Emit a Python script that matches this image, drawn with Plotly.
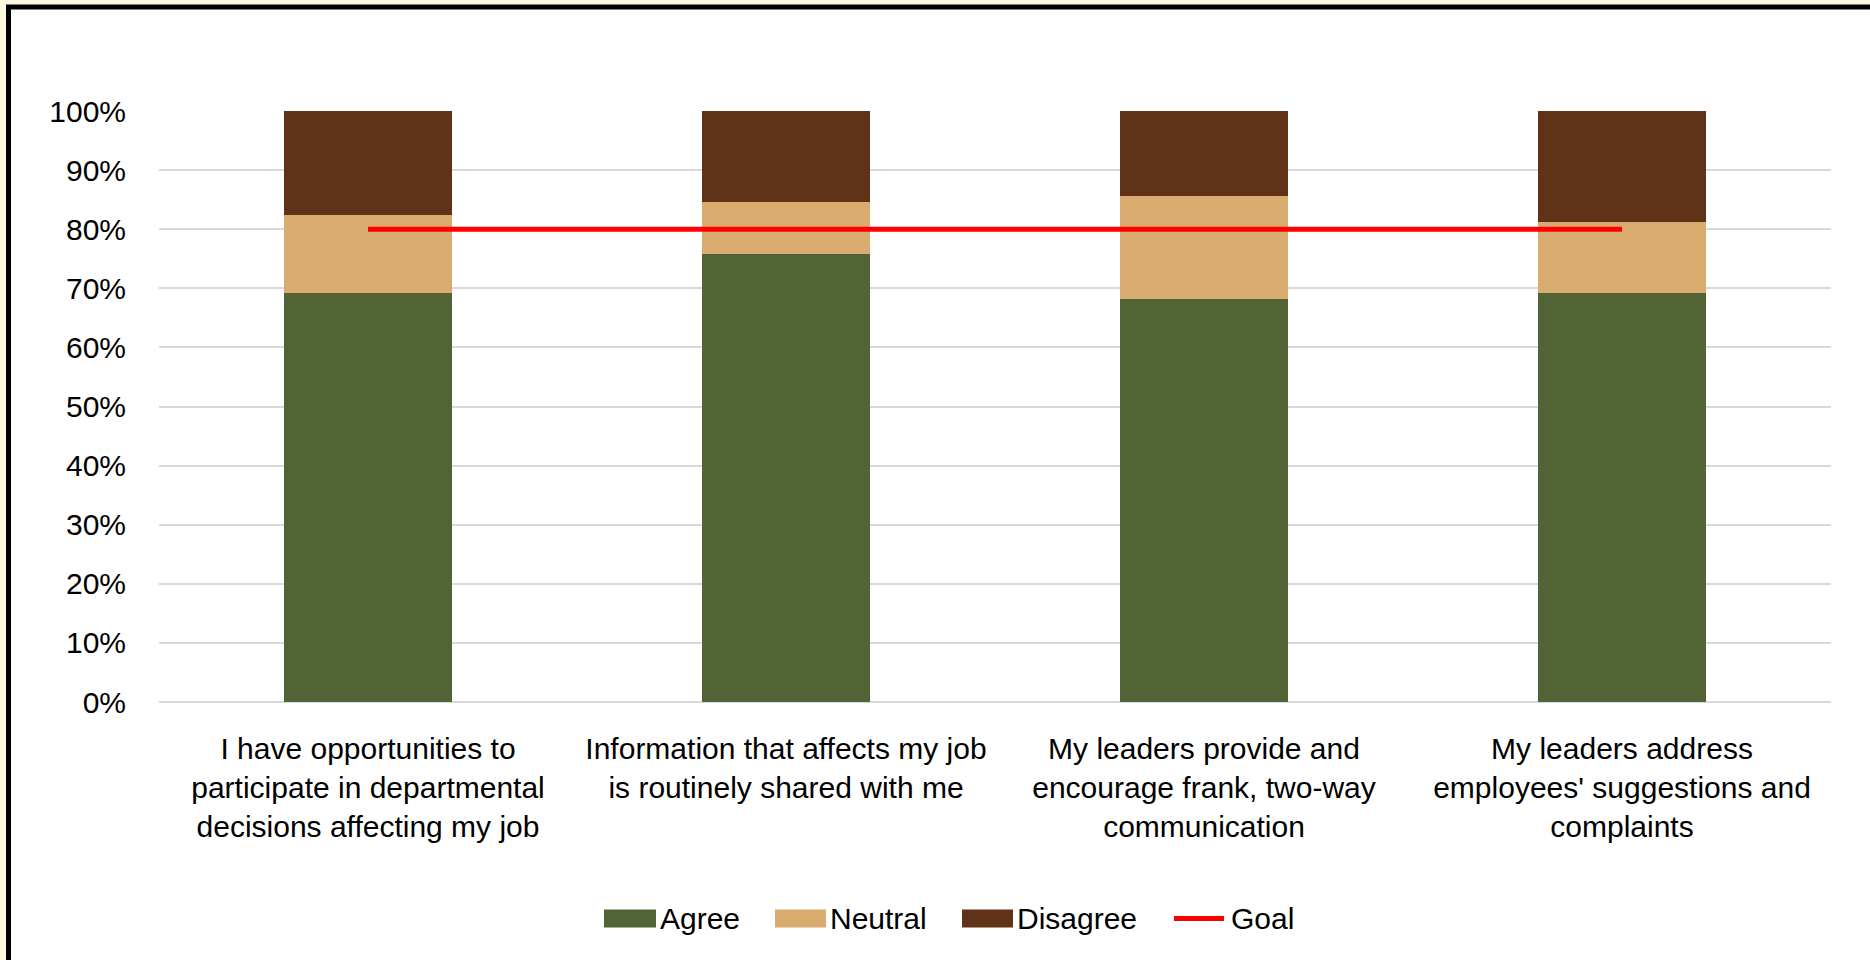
import plotly.graph_objects as go

categories = [
    "I have opportunities to<br>participate in departmental<br>decisions affecting my job",
    "Information that affects my job<br>is routinely shared with me",
    "My leaders provide and<br>encourage frank, two-way<br>communication",
    "My leaders address<br>employees' suggestions and<br>complaints",
]
agree = [69.2, 75.8, 68.2, 69.2]
neutral = [13.2, 8.8, 17.5, 12.1]
disagree = [17.6, 15.4, 14.3, 18.7]
goal = [80, 80, 80, 80]
y_ticks = [0, 10, 20, 30, 40, 50, 60, 70, 80, 90, 100]
y_tick_labels = [f"{v}%" for v in y_ticks]

C_AGREE = "#526436"
C_NEUTRAL = "#D9AB6E"
C_DISAGREE = "#603218"
C_GOAL = "#FF0000"
FONT = "Liberation Sans Narrow, Arial Narrow, Liberation Sans, Arial, sans-serif"

W, H = 1870, 960
L, R, T, B = 159, 1831, 111, 702


def px(x):
    return (x - L) / (R - L)


def py(y):
    return (B - y) / (B - T)


fig = go.Figure()
fig.add_trace(go.Bar(x=categories, y=agree, name="Agree", marker_color=C_AGREE, marker_line_width=0))
fig.add_trace(go.Bar(x=categories, y=neutral, name="Neutral", marker_color=C_NEUTRAL, marker_line_width=0))
fig.add_trace(go.Bar(x=categories, y=disagree, name="Disagree", marker_color=C_DISAGREE, marker_line_width=0))
fig.add_trace(go.Scatter(x=categories, y=goal, name="Goal", mode="lines",
                         line=dict(color=C_GOAL, width=5)))

shapes = [
    dict(type="rect", xref="paper", yref="paper", x0=px(8.5), y0=py(7), x1=px(1895), y1=py(990),
         line=dict(color="black", width=5), fillcolor="white", layer="below"),
]
annotations = []
legend_items = [
    ("Agree", C_AGREE, 604, 656, "rect"),
    ("Neutral", C_NEUTRAL, 775, 826, "rect"),
    ("Disagree", C_DISAGREE, 962, 1013, "rect"),
    ("Goal", C_GOAL, 1171, 1227, "line"),
]
ly = 918.5
for name, col, x0, x1, kind in legend_items:
    if kind == "rect":
        shapes.append(dict(type="rect", xref="paper", yref="paper", x0=px(x0), x1=px(x1),
                           y0=py(ly + 9), y1=py(ly - 9), fillcolor=col, line=dict(width=0)))
    else:
        shapes.append(dict(type="line", xref="paper", yref="paper", x0=px(x0 + 3), x1=px(x1 - 3),
                           y0=py(ly), y1=py(ly), line=dict(color=col, width=5)))
    annotations.append(dict(text=name, xref="paper", yref="paper", x=px(x1 + 2), y=py(ly),
                            xanchor="left", yanchor="middle", showarrow=False,
                            font=dict(family=FONT, size=30, color="black")))

fig.update_layout(
    width=W, height=H,
    margin=dict(l=L, r=W - R, t=T, b=H - B, pad=0),
    barmode="stack",
    bargap=0.6,
    paper_bgcolor="#FFF8E1",
    plot_bgcolor="white",
    showlegend=False,
    shapes=shapes,
    annotations=annotations,
    font=dict(family=FONT, size=30, color="black"),
)
fig.update_xaxes(showgrid=False, showline=False, ticks="outside", ticklen=20,
                 tickcolor="rgba(0,0,0,0)", tickfont=dict(size=30), tickangle=0)
fig.update_yaxes(range=[0, 100], tickmode="array", tickvals=y_ticks, ticktext=y_tick_labels,
                 showgrid=True, gridcolor="#D9D9D9", gridwidth=1.5, zeroline=True,
                 zerolinecolor="#D9D9D9", zerolinewidth=1.5, showline=False, ticks="outside",
                 ticklen=26, tickcolor="rgba(0,0,0,0)", tickfont=dict(size=30))

fig.write_html("out.html")
